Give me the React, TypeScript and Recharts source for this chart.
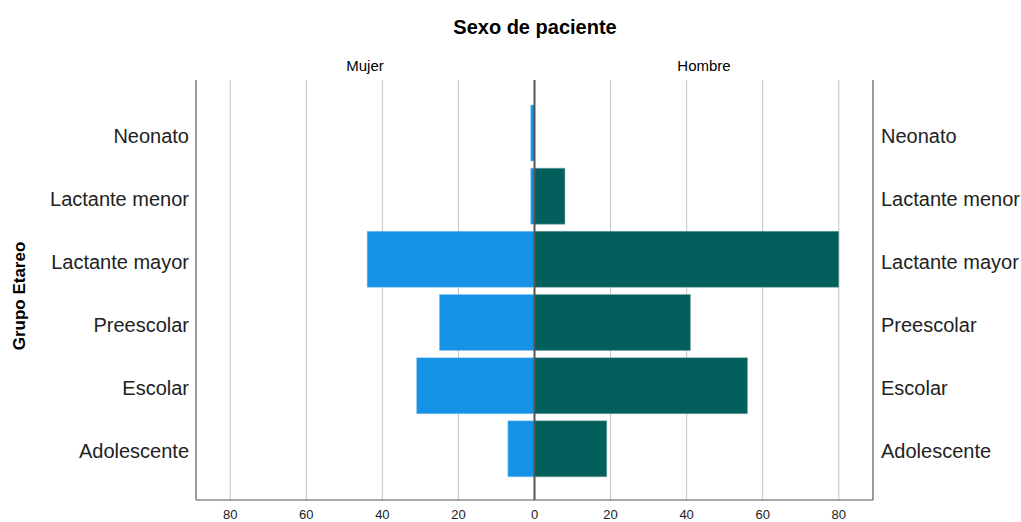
import { Bar, BarChart, CartesianGrid, ReferenceLine, XAxis, YAxis } from 'recharts';

const grupos = ['Neonato', 'Lactante menor', 'Lactante mayor', 'Preescolar', 'Escolar', 'Adolescente'];
const mujer = [1, 1, 44, 25, 31, 7];
const hombre = [0, 8, 80, 41, 56, 19];
const xTicks = [-80, -60, -40, -20, 0, 20, 40, 60, 80];

// Mujer goes to the left, so store it negative
const data = grupos.map((g, i) => ({ grupo: g, mujer: -mujer[i], hombre: hombre[i] }));

const FONT = '"Liberation Sans", Arial, sans-serif';

const GroupTick = (props: any) => {
  const { x, y, payload, textAnchor } = props;
  return (
    <text x={x} y={y + 10} textAnchor={textAnchor} fontSize={20} fill="#222" fontFamily={FONT}>
      {payload.value}
    </text>
  );
};

const App = () => {
  return (
    <div style={{ position: 'absolute', left: 0, top: 0, width: 1021, height: 522, fontFamily: FONT, background: '#fff' }}>
      <div style={{ position: 'absolute', left: 335, width: 400, top: 16, textAlign: 'center', fontSize: 20, fontWeight: 'bold', color: '#000' }}>
        Sexo de paciente
      </div>
      <div style={{ position: 'absolute', left: 265, width: 200, top: 57, textAlign: 'center', fontSize: 15, color: '#000' }}>
        Mujer
      </div>
      <div style={{ position: 'absolute', left: 604, width: 200, top: 57, textAlign: 'center', fontSize: 15, color: '#000' }}>
        Hombre
      </div>
      <div
        style={{
          position: 'absolute', left: 20, top: 296, fontSize: 17, fontWeight: 'bold', color: '#000',
          transform: 'translate(-50%, -50%) rotate(-90deg)', whiteSpace: 'nowrap',
        }}
      >
        Grupo Etareo
      </div>
      <BarChart
        width={1021}
        height={522}
        data={data}
        layout="vertical"
        stackOffset="sign"
        margin={{ top: 80, right: 8, bottom: 0, left: 46 }}
        style={{ position: 'absolute', left: 0, top: 0 }}
      >
        <CartesianGrid horizontal={false} stroke="#c4c4c4" />
        <XAxis
          type="number"
          domain={[-89, 89]}
          ticks={xTicks}
          tickFormatter={(v) => `${Math.abs(v)}`}
          height={22}
          tickLine={false}
          tickMargin={4}
          axisLine={{ stroke: '#555' }}
          tick={{ fontSize: 13, fill: '#222', fontFamily: FONT }}
        />
        <YAxis
          yAxisId="left"
          type="category"
          dataKey="grupo"
          width={150}
          padding={{ top: 21, bottom: 20 }}
          tickLine={false}
          tickSize={5}
          axisLine={{ stroke: '#555' }}
          tick={<GroupTick />}
        />
        <YAxis
          yAxisId="right"
          orientation="right"
          type="category"
          dataKey="grupo"
          width={140}
          padding={{ top: 21, bottom: 20 }}
          tickLine={false}
          axisLine={{ stroke: '#555' }}
          tick={<GroupTick />}
        />
        <Bar yAxisId="left" dataKey="mujer" stackId="a" fill="#1592e6" stroke="#8cc8f0" strokeWidth={0.5} barSize={56} isAnimationActive={false} />
        <Bar yAxisId="left" dataKey="hombre" stackId="a" fill="#035f5b" stroke="#7fa9a7" strokeWidth={0.5} barSize={56} isAnimationActive={false} />
        <ReferenceLine yAxisId="left" x={0} stroke="#555" strokeWidth={2} />
      </BarChart>
    </div>
  );
};

export default App;
